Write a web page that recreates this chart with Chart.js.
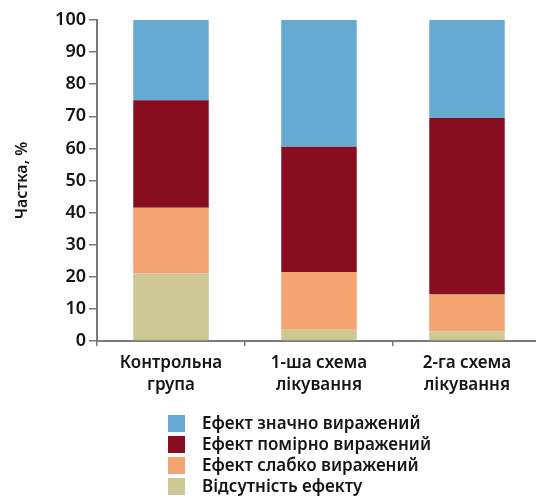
<!DOCTYPE html>
<html>
<head>
<meta charset="utf-8">
<script src="https://cdn.jsdelivr.net/npm/chart.js@4/dist/chart.umd.min.js"></script>
<style>
  html, body { margin: 0; padding: 0; background: #fff; overflow: hidden; }
  #wrap { position: relative; width: 545px; height: 499px; }
</style>
</head>
<body>
<div id="wrap"><canvas id="effectChart"></canvas></div>
<script>
const groups = [["Контрольна", "група"], ["1-ша схема", "лікування"], ["2-га схема", "лікування"]];
const noEffect = [21, 3.5, 3];
const weakEffect = [20.5, 18, 11.5];
const moderateEffect = [33.5, 39, 55];
const strongEffect = [25, 39.5, 30.5];
const yTicks = [0, 10, 20, 30, 40, 50, 60, 70, 80, 90, 100];

const FONT = "'Noto Sans', sans-serif";
const INK = "#151515";

// legend drawn as a plain list under the axis, top item first
const listLegend = {
  id: "listLegend",
  afterDraw(chart) {
    const c = chart.ctx;
    const sets = chart.data.datasets.slice().reverse();
    c.save();
    c.font = "600 17px " + FONT;
    c.textBaseline = "middle";
    sets.forEach((ds, i) => {
      const y = 415 + i * 21;
      c.fillStyle = ds.backgroundColor;
      c.fillRect(168, y, 17, 17);
      c.fillStyle = INK;
      c.fillText(ds.label, 202, y + 9);
    });
    c.restore();
  }
};

const ctx = document.getElementById("effectChart").getContext("2d");

new Chart(ctx, {
  type: "bar",
  data: {
    labels: groups,
    datasets: [
      { label: "Відсутність ефекту", data: noEffect, backgroundColor: "#cdc894" },
      { label: "Ефект слабко виражений", data: weakEffect, backgroundColor: "#f4a470" },
      { label: "Ефект помірно виражений", data: moderateEffect, backgroundColor: "#870d1f" },
      { label: "Ефект значно виражений", data: strongEffect, backgroundColor: "#66aad4" }
    ]
  },
  options: {
    responsive: true,
    maintainAspectRatio: false,
    animation: false,
    layout: { padding: { top: 20, right: 4, left: 0, bottom: 0 } },
    datasets: { bar: { barPercentage: 0.51, categoryPercentage: 1 } },
    scales: {
      x: {
        stacked: true,
        afterFit(scale) { scale.height = 158; },
        border: { color: "#7a7a7a", width: 2 },
        grid: { offset: true, drawOnChartArea: false, tickLength: 5, color: "#7a7a7a", lineWidth: 1.5 },
        ticks: { color: INK, font: { family: FONT, size: 17, weight: 600, lineHeight: 1.25 }, padding: 7, maxRotation: 0 }
      },
      y: {
        stacked: true,
        min: 0,
        max: 100,
        afterFit(scale) { scale.width = 97; },
        afterBuildTicks(scale) { scale.ticks = yTicks.map(v => ({ value: v })); },
        border: { color: "#7a7a7a", width: 2 },
        grid: { drawOnChartArea: false, tickLength: 8, color: "#7a7a7a", lineWidth: 1.5 },
        ticks: { color: INK, font: { family: FONT, size: 18, weight: 600 }, padding: 3 },
        title: { display: true, text: "Частка, %", color: INK, font: { family: FONT, size: 16, weight: 600 }, padding: { top: 13, bottom: 4 } }
      }
    },
    plugins: {
      legend: { display: false },
      tooltip: { enabled: false }
    }
  },
  plugins: [listLegend]
});
</script>
</body>
</html>
